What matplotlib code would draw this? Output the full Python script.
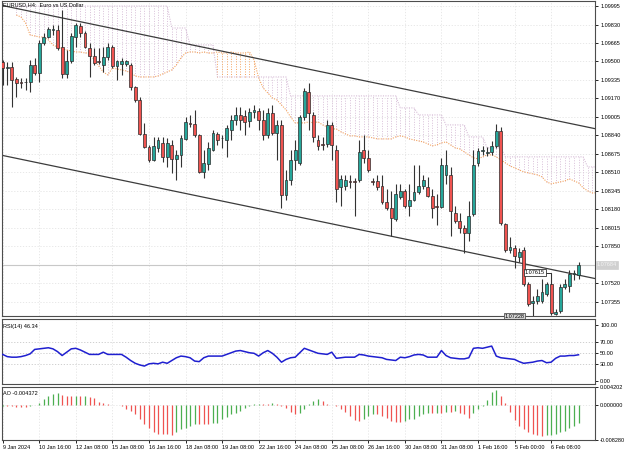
import numpy as np
import matplotlib
matplotlib.use("Agg")
import matplotlib.pyplot as plt

# ---------------- data ----------------
open_ = [1.09496,1.09442,1.09451,1.09344,1.09318,1.09318,1.09318,1.09469,1.09398,1.09665,
         1.09719,1.09781,1.09781,1.09630,1.09389,1.09505,1.09719,1.09817,1.09755,1.09621,
         1.09549,1.09505,1.09469,1.09541,1.09630,1.09460,1.09478,1.09478,1.09469,1.09273,
         1.09157,1.08854,1.08738,1.08622,1.08729,1.08773,1.08649,1.08756,1.08631,1.08666,
         1.08809,1.08952,1.08943,1.08845,1.08515,1.08586,1.08711,1.08854,1.08818,1.08800,
         1.08889,1.08979,1.09023,1.09014,1.08970,1.09050,1.09059,1.08979,1.08845,1.09041,
         1.08863,1.08934,1.08310,1.08443,1.08622,1.08595,1.09005,1.09228,1.09023,1.08800,
         1.08765,1.08765,1.08934,1.08711,1.08381,1.08390,1.08434,1.08434,1.08443,1.08711,
         1.08640,1.08434,1.08434,1.08390,1.08247,1.08194,1.08096,1.08292,1.08345,1.08211,
         1.08265,1.08336,1.08390,1.08381,1.08301,1.08211,1.08203,1.08488,1.08488,1.08149,
         1.08078,1.08015,1.07971,1.08140,1.08595,1.08702,1.08684,1.08693,1.08747,1.08880,
         1.08051,1.07819,1.07837,1.07757,1.07819,1.07516,1.07346,1.07364,1.07364,1.07427,
         1.07516,1.07248,1.07275,1.07489,1.07498,1.07605,1.07596]
close = [1.09442,1.09451,1.09335,1.09309,1.09309,1.09316,1.09469,1.09398,1.09665,1.09719,
         1.09790,1.09786,1.09621,1.09389,1.09505,1.09728,1.09826,1.09755,1.09630,1.09549,
         1.09487,1.09496,1.09541,1.09630,1.09460,1.09505,1.09505,1.09500,1.09273,1.09157,
         1.08854,1.08738,1.08622,1.08747,1.08800,1.08649,1.08773,1.08631,1.08666,1.08818,
         1.08961,1.08943,1.08845,1.08515,1.08595,1.08729,1.08863,1.08800,1.08815,1.08907,
         1.08979,1.09023,1.08979,1.08961,1.09050,1.09068,1.08979,1.08845,1.09041,1.08863,
         1.08934,1.08310,1.08443,1.08622,1.08711,1.09005,1.09237,1.09041,1.08827,1.08747,
         1.08756,1.08934,1.08756,1.08363,1.08452,1.08443,1.08426,1.08426,1.08693,1.08640,
         1.08533,1.08426,1.08381,1.08247,1.08194,1.08104,1.08319,1.08345,1.08211,1.08265,
         1.08336,1.08390,1.08443,1.08301,1.08194,1.08200,1.08577,1.08577,1.08167,1.08078,
         1.08015,1.07971,1.08122,1.08577,1.08702,1.08711,1.08693,1.08747,1.08880,1.08060,
         1.07819,1.07846,1.07765,1.07801,1.07516,1.07337,1.07364,1.07409,1.07444,1.07516,
         1.07257,1.07266,1.07489,1.07516,1.07605,1.07614,1.07684]
high = [1.09514,1.09496,1.09496,1.09362,1.09353,1.09353,1.09514,1.09532,1.09692,1.09755,
        1.09808,1.09826,1.09826,1.09960,1.09603,1.09755,1.09844,1.09844,1.09772,1.09665,
        1.09621,1.09621,1.09630,1.09665,1.09648,1.09514,1.09532,1.09514,1.09487,1.09280,
        1.09184,1.08952,1.08756,1.08827,1.08827,1.08827,1.08818,1.08800,1.08711,1.08845,
        1.09005,1.09023,1.09068,1.08854,1.08711,1.08782,1.08889,1.08872,1.08845,1.08934,
        1.09023,1.09095,1.09095,1.09068,1.09086,1.09112,1.09086,1.09068,1.09086,1.09112,
        1.08979,1.08979,1.08533,1.08711,1.08800,1.09023,1.09264,1.09309,1.09050,1.08845,
        1.08827,1.08979,1.08961,1.08756,1.08488,1.08488,1.08488,1.08461,1.08800,1.08845,
        1.08711,1.08461,1.08488,1.08488,1.08363,1.08345,1.08408,1.08408,1.08363,1.08408,
        1.08577,1.08577,1.08488,1.08470,1.08363,1.08319,1.08640,1.08711,1.08559,1.08211,
        1.08149,1.08042,1.08256,1.08711,1.08729,1.08747,1.08738,1.08791,1.08943,1.08916,
        1.08060,1.07935,1.07864,1.07837,1.07846,1.07534,1.07409,1.07471,1.07560,1.07534,
        1.07615,1.07293,1.07516,1.07560,1.07641,1.07641,1.07712]
low = [1.09291,1.09291,1.09095,1.09184,1.09264,1.09246,1.09228,1.09380,1.09318,1.09648,
       1.09710,1.09737,1.09603,1.09353,1.09353,1.09487,1.09630,1.09719,1.09621,1.09362,
       1.09469,1.09478,1.09407,1.09514,1.09442,1.09335,1.09380,1.09460,1.09246,1.09139,
       1.08845,1.08729,1.08604,1.08615,1.08693,1.08604,1.08559,1.08506,1.08443,1.08559,
       1.08800,1.08916,1.08827,1.08506,1.08461,1.08533,1.08705,1.08756,1.08729,1.08649,
       1.08800,1.08934,1.08889,1.08845,1.08916,1.08996,1.08889,1.08800,1.08818,1.08845,
       1.08622,1.08194,1.08265,1.08399,1.08533,1.08577,1.08979,1.08889,1.08782,1.08711,
       1.08711,1.08738,1.08622,1.08247,1.08211,1.08354,1.08372,1.08122,1.08426,1.08595,
       1.08515,1.08399,1.08354,1.08229,1.08176,1.07944,1.08078,1.08274,1.08194,1.08122,
       1.08256,1.08319,1.08363,1.08292,1.08104,1.08042,1.08194,1.08408,1.07944,1.08060,
       1.07971,1.07792,1.07899,1.08122,1.08568,1.08666,1.08657,1.08666,1.08729,1.08042,
       1.07801,1.07792,1.07658,1.07712,1.07498,1.07319,1.07228,1.07337,1.07346,1.07409,
       1.07240,1.07235,1.07257,1.07471,1.07444,1.07551,1.07560]

cloud_start = 3
span_a = [1.09915,1.09897,1.09844,1.09737,1.09728,1.09719,1.09719,1.09692,1.09648,1.09630,
          1.09612,1.09603,1.09594,1.09585,1.09585,1.09576,1.09576,1.09514,1.09460,1.09407,
          1.09380,1.09442,1.09434,1.09425,1.09416,1.09398,1.09371,1.09362,1.09362,1.09362,
          1.09362,1.09371,1.09389,1.09407,1.09425,1.09469,1.09532,1.09576,1.09585,1.09585,
          1.09576,1.09585,1.09576,1.09576,1.09585,1.09576,1.09576,1.09585,1.09576,1.09576,
          1.09576,1.09585,1.09514,1.09353,1.09264,1.09219,1.09175,1.09157,1.09112,1.09068,
          1.09005,1.08952,1.08952,1.08952,1.08961,1.08952,1.08961,1.08934,1.08916,1.08898,
          1.08898,1.08872,1.08854,1.08836,1.08836,1.08827,1.08827,1.08827,1.08818,1.08809,
          1.08809,1.08809,1.08809,1.08827,1.08836,1.08827,1.08809,1.08800,1.08791,1.08782,
          1.08765,1.08747,1.08756,1.08773,1.08782,1.08756,1.08729,1.08720,1.08693,1.08666,
          1.08640,1.08631,1.08649,1.08666,1.08666,1.08649,1.08622,1.08595,1.08568,1.08550,
          1.08533,1.08515,1.08506,1.08497,1.08488,1.08470,1.08426,1.08408,1.08417,1.08426,
          1.08434,1.08452,1.08434,1.08417,1.08372,1.08345,1.08327,1.08327]
span_b = ([1.09995] * 34 + [1.09799] * 4 + [1.09648] * 6 + [1.09362] * 16 +
          [1.09193] * 24 + [1.09086] * 4 + [1.09023] * 6 + [1.08934] * 5 +
          [1.08827] * 4 + [1.08729] * 4 + [1.08649] * 18 + [1.08559] * 3)

rsi = [47,43,42,42,43,45,48,56,57,58,59,57,52,45,51,57,58,55,51,47,
       47,47,51,47,47,47,47,42,36,31,28,26,30,31,30,33,31,36,41,44,
       43,41,35,34,41,44,44,44,44,47,50,53,54,52,50,49,44,50,54,49,
       42,33,38,41,42,50,58,55,52,49,48,47,51,40,41,42,42,42,47,46,
       44,43,42,41,38,37,36,42,41,43,46,47,46,42,42,42,54,45,41,40,
       39,39,41,58,59,58,60,62,44,41,40,39,38,34,31,32,33,35,36,32,
       33,40,44,44,45,45,46.34]

ao = [-0.23,-0.30,-0.38,-0.45,-0.53,-0.53,-0.38,-0.08,0.53,1.44,
      2.20,2.65,2.80,2.35,2.12,1.97,2.04,2.04,2.12,1.74,
      1.51,0.68,0.38,0.23,0.08,-0.15,-0.23,-0.91,-1.51,-2.20,
      -3.26,-4.47,-5.45,-6.43,-6.81,-6.81,-6.81,-7.04,-6.43,-5.68,
      -5.45,-4.92,-4.54,-4.54,-4.54,-4.54,-4.39,-4.16,-3.41,-2.80,
      -2.27,-1.89,-1.36,-0.76,-0.23,0.15,0.30,0.23,0.23,0.53,
      0.23,-0.23,-0.68,-1.74,-2.27,-1.89,-0.98,0.23,0.91,1.36,
      0.98,0.30,0.00,-0.38,-0.98,-1.74,-2.65,-3.63,-3.79,-3.26,
      -2.65,-2.27,-2.27,-2.65,-3.03,-3.79,-4.01,-4.01,-3.79,-3.41,
      -3.26,-2.65,-2.04,-1.89,-1.89,-1.82,-1.97,-1.74,-1.74,-1.51,
      -1.89,-2.27,-3.03,-1.89,-0.98,-0.23,1.14,3.03,3.41,2.12,
      0.38,-1.74,-3.56,-4.92,-5.68,-6.43,-6.81,-7.19,-7.34,-7.19,
      -7.04,-6.81,-6.43,-6.21,-5.53,-4.92,-4.372]
ao = [v / 1000.0 for v in ao]

channel_upper = ([0, 126], [1.09999, 1.08931])
channel_lower = ([0, 126], [1.08661, 1.07593])
current_price = 1.07684
label_high = (120, 1.07615)
label_low = (116, 1.07228)

price_ticks = [1.09995, 1.09830, 1.09665, 1.09500, 1.09335, 1.09170, 1.09005, 1.08840,
               1.08675, 1.08510, 1.08345, 1.08180, 1.08015, 1.07850, 1.07520, 1.07355]
time_labels = ["9 Jan 2024", "10 Jan 16:00", "12 Jan 08:00", "15 Jan 08:00", "16 Jan 16:00",
               "18 Jan 08:00", "19 Jan 08:00", "22 Jan 16:00", "24 Jan 08:00", "25 Jan 08:00",
               "26 Jan 16:00", "30 Jan 08:00", "31 Jan 08:00", "1 Feb 16:00", "5 Feb 00:00",
               "6 Feb 08:00"]
time_label_step = 8

# ---------------- style ----------------
FONT = ["Liberation Sans", "DejaVu Sans"]
plt.rcParams["font.family"] = FONT
FS = 4.0
BULL = "#26a69a"
BEAR = "#ef5350"
EDGE = "#2b2b2b"
GRID = "#e4e4e4"
THISTLE = "#d8bfd8"
SANDY = "#f4a460"
SPINE = "#4d4d4d"

W, H = 625, 455
fig = plt.figure(figsize=(W / 100, H / 100), dpi=100)


def rect(x0, y0, x1, y1):
    return [x0 / W, 1 - y1 / H, (x1 - x0) / W, (y1 - y0) / H]


ax = fig.add_axes(rect(2, 1, 595, 316))
ax_rsi = fig.add_axes(rect(2, 319, 595, 384))
ax_ao = fig.add_axes(rect(2, 387, 595, 440))

n = len(close)
x = np.arange(n)
o = np.array(open_); c = np.array(close); h = np.array(high); l = np.array(low)
XL = ((2 - 2.7) / 4.57, (595 - 2.7) / 4.57)
tick_bars = np.arange(len(time_labels)) * time_label_step

for a in (ax, ax_rsi, ax_ao):
    a.set_xlim(*XL)
    for s in a.spines.values():
        s.set_color(SPINE)
        s.set_linewidth(0.8)
    a.set_xticks(tick_bars)
    a.tick_params(axis="x", length=0, labelbottom=False)
    a.yaxis.tick_right()
    a.tick_params(axis="y", length=2.5, width=0.6, pad=1.2, labelsize=FS, colors="black")
    for tb in tick_bars:
        a.axvline(tb, color=GRID, lw=0.6, ls=(0, (1.5, 2)), zorder=0)

# ---- main panel ----
ax.set_ylim(1.07228, 1.10040)
ax.set_yticks(price_ticks)
ax.set_yticklabels([f"{p:.5f}" for p in price_ticks])
for p in price_ticks:
    ax.axhline(p, color=GRID, lw=0.6, ls=(0, (1.5, 2)), zorder=0)

cx = np.arange(cloud_start, cloud_start + len(span_a))
sa = np.array(span_a); sb = np.array(span_b)
for xi, va, vb in zip(cx, sa, sb):
    col = THISTLE if vb >= va else SANDY
    ax.vlines(xi, min(va, vb), max(va, vb), colors=col, lw=0.7,
              linestyles=(0, (1, 1.6)), zorder=1)
ax.plot(cx, sa, color=SANDY, lw=0.8, ls=(0, (1, 1.2)), zorder=1)
ax.plot(cx, sb, color=THISTLE, lw=0.8, ls=(0, (1, 1.2)), zorder=1)

ax.axhline(current_price, color="#c8c8c8", lw=0.8, zorder=2)

for (bx, by) in (channel_upper, channel_lower):
    slope = (by[1] - by[0]) / (bx[1] - bx[0])
    xs = np.array(XL)
    ax.plot(xs, by[0] + slope * (xs - bx[0]), color="#3c3c3c", lw=0.9, zorder=2)

bull = c >= o
ax.vlines(x, l, h, color="#333333", lw=0.8, zorder=3)
ax.bar(x, np.abs(c - o), bottom=np.minimum(o, c), width=0.62,
       color=np.where(bull, BULL, BEAR), edgecolor=EDGE, linewidth=0.5, zorder=4)

ax.text(0.002, 0.997, "EURUSD,H4:  Euro vs US Dollar", transform=ax.transAxes,
        fontsize=FS, va="top", ha="left", color="black", zorder=6)

# price labels (high / low markers)
hx, hy = label_high
ax.plot([hx - 1.3, hx, hx], [hy, hy, o[hx]], color="#333333", lw=0.7, zorder=5)
ax.text(hx - 1.4, hy, f"{hy:.5f}", fontsize=FS, ha="right", va="center", zorder=6,
        bbox=dict(boxstyle="square,pad=0.15", fc="white", ec="#333333", lw=0.6))
lx, ly = label_low
ax.plot([lx - 1.5, lx], [ly, ly], color="#333333", lw=0.7, zorder=5)
ax.text(lx - 1.8, ly, f"{ly:.5f}", fontsize=FS, ha="right", va="center", zorder=6,
        bbox=dict(boxstyle="square,pad=0.15", fc="#d6d6d6", ec="#555555", lw=0.6))

# current price tag on the axis
ax.text(1.003, (current_price - 1.07228) / (1.10040 - 1.07228), f"{current_price:.5f}",
        transform=ax.transAxes, fontsize=FS, ha="left", va="center", color="#f4f4f4",
        clip_on=False, zorder=6,
        bbox=dict(boxstyle="square,pad=0.2", fc="#d0d0d0", ec="#d0d0d0", lw=0.5))

# ---- RSI panel ----
ax_rsi.set_ylim(-6.3, 110.8)
ax_rsi.set_yticks([100, 70, 50, 30, 0])
ax_rsi.set_yticklabels(["100.00", "70.00", "50.00", "30.00", "0.00"])
for lv in (70, 50, 30):
    ax_rsi.axhline(lv, color="#c8c8c8", lw=0.6, ls=(0, (1.5, 2)), zorder=1)
ax_rsi.plot(x, rsi, color="#1f1fd0", lw=1.1, zorder=3)
ax_rsi.text(0.002, 0.93, f"RSI(14) {rsi[-1]:.2f}", transform=ax_rsi.transAxes,
            fontsize=FS, va="top", ha="left")

# ---- AO panel ----
AO_MAX, AO_MIN = 0.004202, -0.008280
ax_ao.set_ylim(AO_MIN, AO_MAX)
ax_ao.set_yticks([AO_MAX, 0.0, AO_MIN])
ax_ao.set_yticklabels([f"{AO_MAX:.6f}", "0.000000", f"{AO_MIN:.6f}"])
ax_ao.axhline(0, color=GRID, lw=0.6, ls=(0, (1.5, 2)), zorder=0)
aov = np.array(ao)
cols = ["#4caf50"] + ["#4caf50" if aov[i] > aov[i - 1] else BEAR for i in range(1, n)]
ax_ao.vlines(x, 0, aov, colors=cols, lw=0.9, zorder=3)
ax_ao.text(0.002, 0.93, f"AO {ao[-1]:.6f}", transform=ax_ao.transAxes,
           fontsize=FS, va="top", ha="left")

ax_ao.tick_params(axis="x", length=2.5, width=0.6, labelbottom=True, labelsize=FS, pad=1)
ax_ao.set_xticklabels(time_labels, ha="left")

fig.savefig("out.png", dpi=100)
